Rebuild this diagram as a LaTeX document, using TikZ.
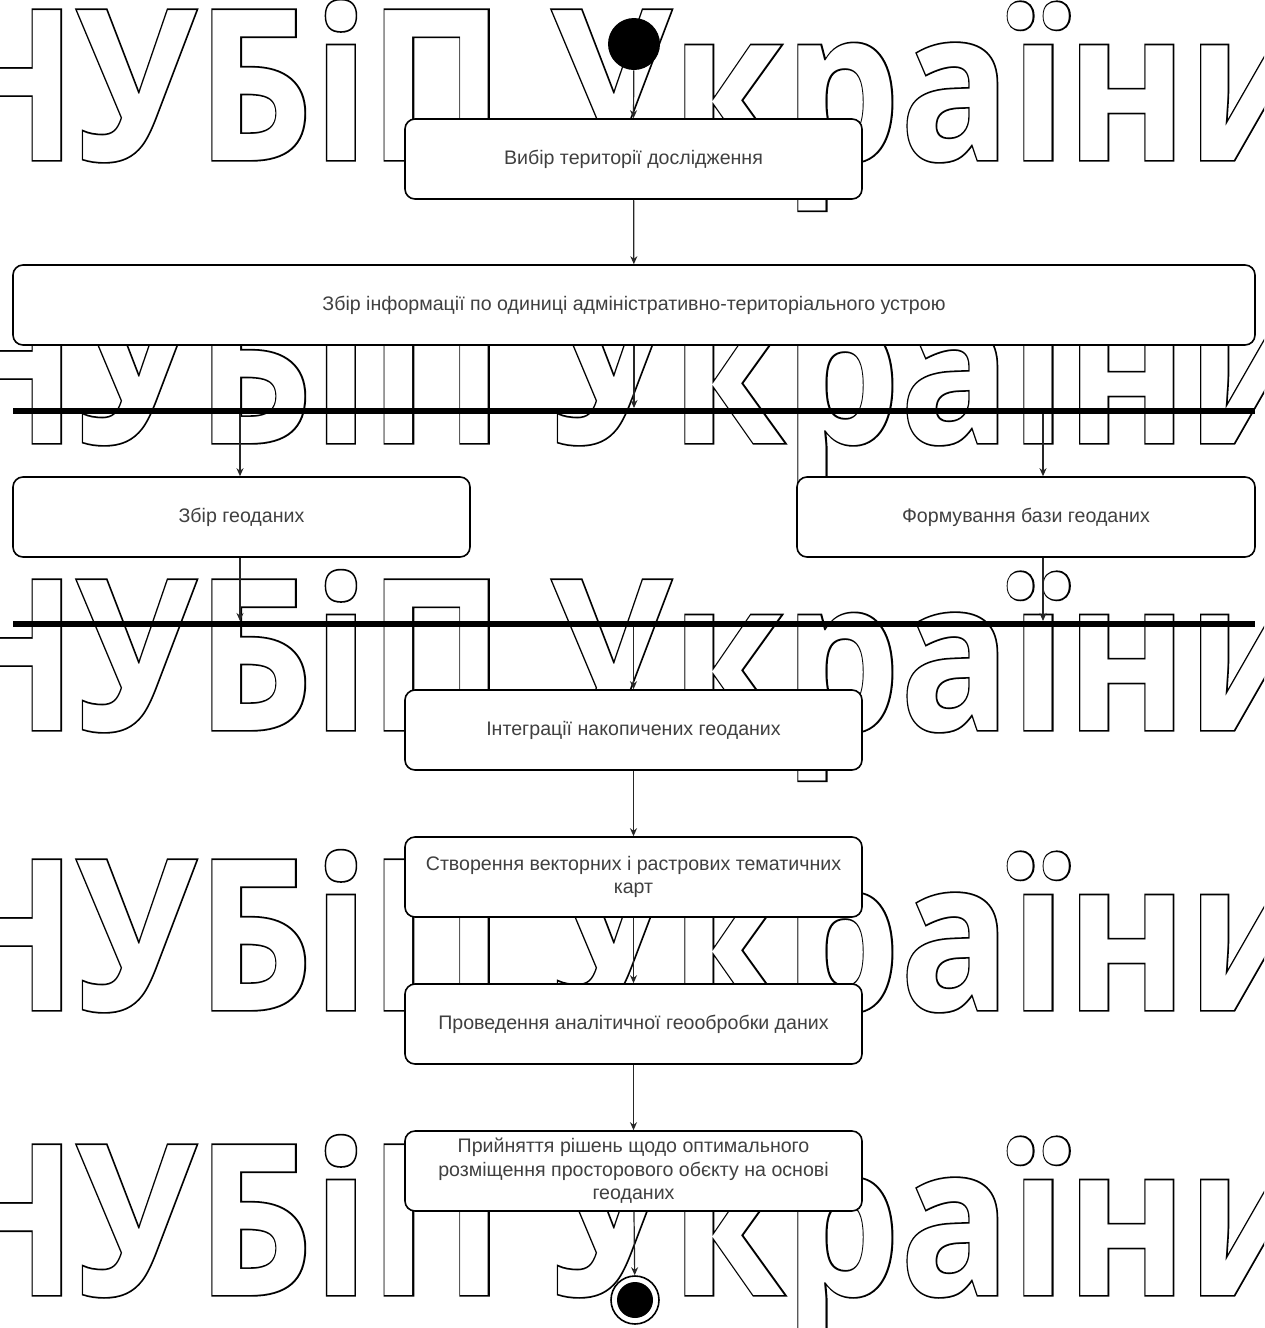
\documentclass[tikz,border=0pt]{standalone}
\usepackage{fontspec}
\setmainfont{Liberation Sans}
\newfontfamily\wmfont{Open Sans}
\newfontfamily\wmfontblack{Open Sans}[BoldFeatures={FakeBold=1.6}]
\usetikzlibrary{arrows.meta,calc}
\newcommand{\wmtext}{НУБіП України}
\tikzset{
  act/.style={draw=black, line width=0.8pt, rounded corners=5pt, fill=white,
    inner sep=2pt, align=center, text=black!75,
    font=\fontsize{9.8}{11.8}\selectfont, minimum height=40pt},
  bar/.style={fill=black, draw=none, inner sep=0pt, minimum height=2.6pt, minimum width=621pt},
  arr/.style={draw=black!85, line width=0.6pt, -{Stealth[length=4pt,width=3.5pt]}},
  wmblack/.style={anchor=base west, inner sep=0pt, text=black, font=\wmfontblack\bfseries\fontsize{105}{105}\selectfont},
  wmwhite/.style={anchor=base west, inner sep=0pt, text=white, font=\wmfont\bfseries\fontsize{105}{105}\selectfont}
}
\begin{document}
\begin{tikzpicture}[x=0.5pt,y=-0.5pt]
\useasboundingbox (0,0) rectangle (1264,1328);
\fill[white] (0,0) rectangle (1264,1328);
% watermark
\begin{scope}
\clip (0,0) rectangle (1264,1328);
\foreach \yy/\nm in {160/w1,443/w2,730/w3,1010/w4,1295/w5}{
  \node[wmblack] (\nm b) at (-63,\yy) {\scalebox{0.87}[1]{\wmtext}};
  \node[wmwhite] (\nm) at (-63,\yy) {\scalebox{0.87}[1]{\wmtext}};
}
\end{scope}
% diagram
\node[circle, fill=black, minimum size=26pt, inner sep=0pt] (start) at (634,44) {};
\node[act, minimum width=228.5pt] (b1) at (633.5,159) {Вибір території дослідження};
\node[act, minimum width=621pt] (b2) at (634,305) {Збір інформації по одиниці адміністративно-територіального устрою};
\node[bar] (fork) at (634,411) {};
\node[act, minimum width=228.5pt] (b3) at (241.5,517) {Збір геоданих};
\node[act, minimum width=229pt] (b4) at (1026,517) {Формування бази геоданих};
\node[bar] (join) at (634,624) {};
\node[act, minimum width=228.5pt] (b5) at (633.5,730) {Інтеграції накопичених геоданих};
\node[act, minimum width=228.5pt] (b6) at (633.5,877) {Створення векторних і растрових тематичних\\карт};
\node[act, minimum width=228.5pt] (b7) at (633.5,1024) {Проведення аналітичної геообробки даних};
\node[act, minimum width=228.5pt] (b8) at (633.5,1171) {Прийняття рішень щодо оптимального\\розміщення просторового обєкту на основі\\геоданих};
\node[circle, draw=black, line width=0.8pt, fill=white, minimum size=24pt, inner sep=0pt] (end) at (635,1300) {};
\fill[black] (end.center) circle (9pt);
% connectors
\draw[arr] (start) -- (b1.north);
\draw[arr] (b1) -- (b2);
\draw[arr] (b2.south) -- (fork.north -| b2.south);
\draw[arr] (fork.south -| 240,0) -- (b3.north -| 240,0);
\draw[arr] (fork.south -| 1043,0) -- (b4.north -| 1043,0);
\draw[arr] (b3.south -| 240,0) -- (join.north -| 240,0);
\draw[arr] (b4.south -| 1043,0) -- (join.north -| 1043,0);
\draw[arr] (join.south -| b5.north) -- (b5.north);
\draw[arr] (b5) -- (b6);
\draw[arr] (b6) -- (b7);
\draw[arr] (b7) -- (b8);
\draw[arr] (b8) -- (end);
\end{tikzpicture}
\end{document}
